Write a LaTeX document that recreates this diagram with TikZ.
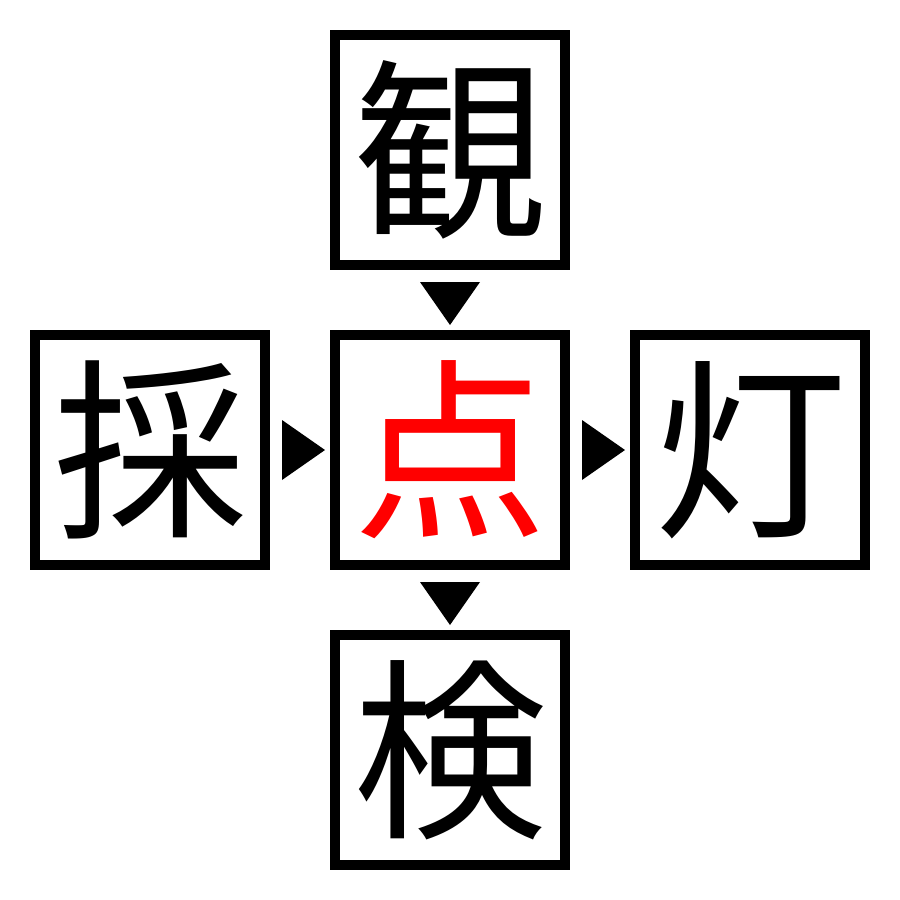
\documentclass[tikz,border=0pt]{standalone}
\usepackage{fontspec}
\newfontfamily\cjk{Noto Sans CJK JP}
\begin{document}
\begin{tikzpicture}[x=1pt,y=-1pt,
  kbox/.style={draw=black,line width=10pt,minimum size=230pt,inner sep=0pt,
    font=\cjk\fontsize{194pt}{194pt}\selectfont,text=black},
  tri/.style={fill=black,draw=none}]
\useasboundingbox (0,0) rectangle (900,900);
\node[kbox] (top) at (450,150) {観};
\node[kbox] (left) at (150,450) {採};
\node[kbox,text=red] (mid) at (450,450) {点};
\node[kbox] (right) at (750,450) {灯};
\node[kbox] (bot) at (450,750) {検};
\fill[tri] (420,282) -- (480,282) -- (450,325) -- cycle;
\fill[tri] (420,582) -- (480,582) -- (450,625) -- cycle;
\fill[tri] (282,420) -- (282,480) -- (325,450) -- cycle;
\fill[tri] (582,420) -- (582,480) -- (625,450) -- cycle;
\end{tikzpicture}
\end{document}
